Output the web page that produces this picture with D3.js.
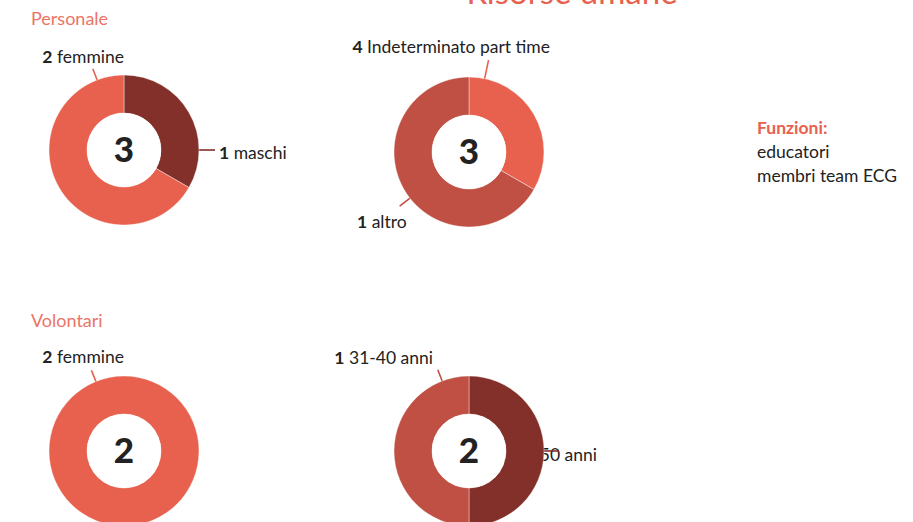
<!DOCTYPE html>
<html>
<head>
<meta charset="utf-8">
<title>Risorse umane</title>
<script src="https://cdn.jsdelivr.net/npm/d3@7"></script>
<style>
  body { margin: 0; background: #fff; }
  text { font-family: Lato, "Open Sans", sans-serif; }
</style>
</head>
<body>
<script>
// --- data ---
// personale, genere
var persGenereCat = ["maschi", "femmine"];
var persGenereVal = [1, 2];
// personale, contratto (slice sizes as drawn, label counts as written)
var persContrattoCat = ["Indeterminato part time", "altro"];
var persContrattoVal = [1, 2];
var persContrattoLbl = [4, 1];
// volontari, genere
var volGenereCat = ["femmine"];
var volGenereVal = [2];
// volontari, eta
var volEtaCat = ["41-50 anni", "31-40 anni"];
var volEtaVal = [1, 1];

var funzioni = ["educatori", "membri team ECG"];

var light = "#e8614f", mid = "#c05044", dark = "#84302a";

var width = 913, height = 522;
var outerR = 75, innerR = 37;

var svg = d3.select("body").append("svg")
  .attr("width", width)
  .attr("height", height);

// title (cut off at top like the original)
svg.append("text")
  .attr("x", 572).attr("y", 4)
  .attr("text-anchor", "middle")
  .style("font-size", "33px")
  .style("fill", light)
  .text("Risorse umane");

// section headings
svg.append("text").attr("x", 31).attr("y", 25)
  .style("font-size", "18px").style("fill", "#ec7465").text("Personale");
svg.append("text").attr("x", 31).attr("y", 327)
  .style("font-size", "18px").style("fill", "#ec7465").text("Volontari");

var pie = d3.pie().sort(null).value(function(d) { return d.value; });
var arc = d3.arc().innerRadius(innerR).outerRadius(outerR);

// label layout: angle of the leader line (deg, clockwise from top),
// and text offset from the donut centre
function donut(cx, cy, cats, vals, counts, colors, labels) {
  var data = cats.map(function(c, i) { return { name: c, value: vals[i], count: counts[i], color: colors[i] }; });
  var total = d3.sum(vals);
  var g = svg.append("g").attr("transform", "translate(" + cx + "," + cy + ")");

  // labels and leader lines go first so the ring sits on top of them
  data.forEach(function(d, i) {
    var L = labels[i];
    var a = L.angle * Math.PI / 180;
    var t = g.append("text")
      .attr("x", L.dx).attr("y", L.dy)
      .attr("text-anchor", L.anchor)
      .style("font-size", "17.5px").style("fill", "#222");
    t.append("tspan").style("font-weight", 700).text(d.count);
    t.append("tspan").text(" " + d.name);
    g.append("line")
      .attr("x1", Math.sin(a) * (outerR - 1)).attr("y1", -Math.cos(a) * (outerR - 1))
      .attr("x2", Math.sin(a) * L.r).attr("y2", -Math.cos(a) * L.r)
      .style("stroke", d.color).style("stroke-width", 1.6);
  });

  g.selectAll("path")
    .data(pie(data))
    .enter().append("path")
    .attr("d", arc)
    .style("fill", function(d) { return d.data.color; })
    .style("stroke", "#fff")
    .style("stroke-width", 0.4);

  // white hole
  g.append("circle").attr("r", innerR).style("fill", "#fff");

  g.append("text")
    .attr("y", 12)
    .attr("text-anchor", "middle")
    .style("font-size", "35px")
    .style("font-weight", 900)
    .style("fill", "#222")
    .text(total);
}

donut(124, 150, persGenereCat, persGenereVal, persGenereVal, [dark, light], [
  { angle: 90, r: 91, dx: 95, dy: 9, anchor: "start" },
  { angle: -21, r: 87, dx: 0, dy: -87, anchor: "end" }
]);
donut(469, 152, persContrattoCat, persContrattoVal, persContrattoLbl, [light, mid], [
  { angle: 12, r: 94, dx: 81, dy: -99, anchor: "end" },
  { angle: 232, r: 88, dx: -112, dy: 76, anchor: "start" }
]);
donut(124, 451, volGenereCat, volGenereVal, volGenereVal, [light], [
  { angle: -22, r: 87, dx: 0, dy: -88, anchor: "end" }
]);
donut(469, 451, volEtaCat, volEtaVal, volEtaVal, [dark, mid], [
  { angle: 90, r: 90, dx: 128, dy: 10, anchor: "end" },
  { angle: -21, r: 87, dx: -36, dy: -87, anchor: "end" }
]);

// funzioni box
var f = svg.append("text").attr("x", 757).attr("y", 134).style("font-size", "17.5px");
f.append("tspan").attr("x", 757).style("font-weight", 700).style("fill", light).text("Funzioni:");
funzioni.forEach(function(s) {
  f.append("tspan").attr("x", 757).attr("dy", 24).style("fill", "#222").text(s);
});
</script>
</body>
</html>
